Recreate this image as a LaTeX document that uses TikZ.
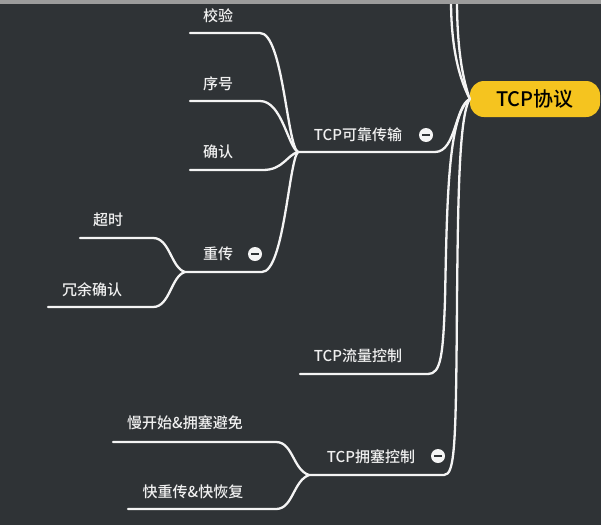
\documentclass[tikz,border=0pt]{standalone}
\usepackage{fontspec}
\setmainfont{Noto Sans CJK SC}[BoldFont={Noto Sans CJK SC Medium}]
\definecolor{bg}{HTML}{2F3336}
\definecolor{topbar}{HTML}{9C9C9C}
\definecolor{rootfill}{HTML}{F5C41F}
\definecolor{linec}{HTML}{F4F4F4}
\definecolor{textc}{HTML}{F0F0F0}
\tikzset{
  conn/.style={draw=linec, line width=2.3pt, line cap=round, line join=round},
  lbl/.style={text=textc, font=\fontsize{15}{17}\selectfont\bfseries, inner sep=0pt},
  rootbox/.style={fill=rootfill, rounded corners=14pt, minimum width=130pt, minimum height=36pt, inner sep=0pt, text=black, font=\fontsize{20}{22}\selectfont\bfseries},
  collapse/.style={circle, fill=linec, minimum size=14pt, inner sep=0pt,
    path picture={\draw[bg, line width=2.4pt] ([xshift=-4pt]path picture bounding box.center) -- ([xshift=4pt]path picture bounding box.center);}},
}
\begin{document}
\begin{tikzpicture}[x=1pt,y=-1pt]
\fill[bg] (0,0) rectangle (601,525);
\useasboundingbox (0,0) rectangle (601,525);

% root
\node[rootbox] (root) at (535,99) {TCP协议};

% free ends above the frame
\coordinate (top1) at (451,0);
\coordinate (top2) at (457,0);
\draw[conn] (root.west) .. controls (460,80) and (451,50) .. (top1);
\draw[conn] (root.west) .. controls (463,80) and (457,50) .. (top2);

% level 1
\coordinate (j1) at (298,152);
\coordinate (k1) at (435,152);
\coordinate (f1) at (300,374);
\coordinate (f0) at (428,374);
\coordinate (j3) at (309,475);
\coordinate (y0) at (444,475);

\draw[conn] (root.west) .. controls (455,106) and (456,152) .. (k1) -- (j1);
\draw[conn] (root.west) .. controls (448,115) and (447,200) .. (445,300) .. controls (443,355) and (441,374) .. (f0) -- (f1);
\draw[conn] (root.west) .. controls (459,115) and (458,200) .. (457,300) .. controls (456,445) and (455,475) .. (y0) -- (j3);

\node[lbl] (kekao) at (358,135) {TCP可靠传输};
\node[collapse] (kekaoc) at (426,135) {};
\node[lbl] (liuliang) at (358,356) {TCP流量控制};
\node[lbl] (yongse) at (371,457) {TCP拥塞控制};
\node[collapse] (yongsec) at (438,456) {};

% children of TCP可靠传输
\coordinate (a1) at (260,33);  \coordinate (a2) at (190,33);
\coordinate (b1) at (260,101); \coordinate (b2) at (190,101);
\coordinate (c1) at (263,170); \coordinate (c2) at (190,170);
\coordinate (d1) at (262,272); \coordinate (j2) at (185,272);

\draw[conn] (j1) .. controls (287,146) and (283,33) .. (a1) -- (a2);
\draw[conn] (j1) .. controls (288,147) and (282,101) .. (b1) -- (b2);
\draw[conn] (j1) .. controls (287,155) and (283,170) .. (c1) -- (c2);
\draw[conn] (j1) .. controls (289,160) and (284,272) .. (d1) -- (j2);

\node[lbl] (jiaoyan) at (218,16) {校验};
\node[lbl] (xuhao) at (218,84) {序号};
\node[lbl] (queren) at (218,152) {确认};
\node[lbl] (chongchuan) at (218,254) {重传};
\node[collapse] (chongchuanc) at (255,254) {};

% children of 重传
\coordinate (e1) at (153,238); \coordinate (e2) at (80,238);
\coordinate (g1) at (153,307); \coordinate (g2) at (48,307);
\draw[conn] (j2) .. controls (171,268) and (170,238) .. (e1) -- (e2);
\draw[conn] (j2) .. controls (171,276) and (170,307) .. (g1) -- (g2);
\node[lbl] (chaoshi) at (108,220) {超时};
\node[lbl] (rongyu) at (92,290) {冗余确认};

% children of TCP拥塞控制
\coordinate (h1) at (276,442); \coordinate (h2) at (113,442);
\coordinate (i1) at (276,509); \coordinate (i2) at (128,509);
\draw[conn] (j3) .. controls (293,470) and (293,442) .. (h1) -- (h2);
\draw[conn] (j3) .. controls (293,481) and (293,509) .. (i1) -- (i2);
\node[lbl] (mankaishi) at (185,423) {慢开始\&拥塞避免};
\node[lbl] (kuaichong) at (193,492) {快重传\&快恢复};

% top bar
\fill[topbar] (0,0) rectangle (601,4);
\end{tikzpicture}
\end{document}
